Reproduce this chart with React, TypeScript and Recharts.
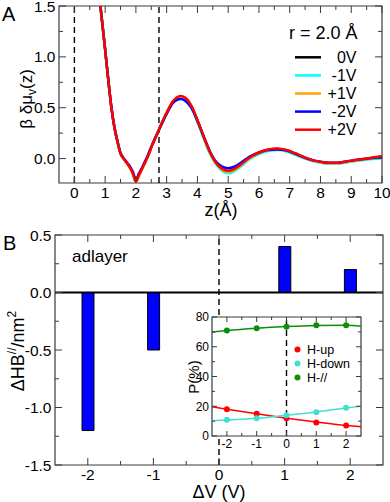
import React from "react";
import {
  Bar,
  BarChart,
  ComposedChart,
  Line,
  LineChart,
  ReferenceArea,
  ReferenceLine,
  XAxis,
  YAxis,
} from "recharts";

const FONT = "'Liberation Sans', Arial, Helvetica, sans-serif";
const AXIS = "#3a3a3a";

// ---- panel A: beta delta mu_v(z) for r = 2.0 A ----
const zValues = [
  0.75, 0.85, 0.9, 1.0, 1.1, 1.2, 1.3, 1.4, 1.5, 1.6, 1.7, 1.8, 1.9, 2.0, 2.1,
  2.2, 2.3, 2.4, 2.5, 2.6, 2.7, 2.8, 3.0, 3.2, 3.45, 3.6, 3.8, 4.0, 4.2, 4.4,
  4.6, 4.8, 5.0, 5.2, 5.4, 5.7, 6.0, 6.3, 6.6, 6.9, 7.2, 7.5, 7.8, 8.1, 8.4,
  8.7, 9.0, 9.4, 9.7, 10.0,
];
const mu0V = [
  1.81, 1.49, 1.35, 1.07, 0.78, 0.51, 0.31, 0.17, 0.05, 0.0, -0.04, -0.085,
  -0.145, -0.225, -0.16, -0.1, -0.035, 0.03, 0.11, 0.18, 0.25, 0.32, 0.45,
  0.555, 0.605, 0.59, 0.515, 0.375, 0.215, 0.065, -0.045, -0.105, -0.125,
  -0.105, -0.065, 0.005, 0.055, 0.085, 0.095, 0.08, 0.045, 0.005, -0.025,
  -0.04, -0.045, -0.04, -0.025, -0.01, 0.005, 0.02,
];
const muM1V = [
  1.81, 1.49, 1.35, 1.07, 0.78, 0.51, 0.31, 0.17, 0.05, 0.0, -0.04, -0.085,
  -0.145, -0.225, -0.16, -0.1, -0.035, 0.035, 0.115, 0.185, 0.255, 0.325,
  0.45, 0.555, 0.6, 0.585, 0.505, 0.36, 0.2, 0.05, -0.05, -0.12, -0.145,
  -0.125, -0.08, -0.005, 0.045, 0.075, 0.085, 0.07, 0.035, 0.0, -0.03, -0.045,
  -0.05, -0.045, -0.03, -0.015, -0.005, 0.0,
];
const muP1V = [
  1.81, 1.49, 1.35, 1.07, 0.78, 0.51, 0.31, 0.17, 0.05, 0.0, -0.045, -0.09,
  -0.15, -0.235, -0.17, -0.105, -0.04, 0.03, 0.11, 0.18, 0.25, 0.32, 0.45,
  0.56, 0.61, 0.595, 0.515, 0.375, 0.215, 0.065, -0.045, -0.11, -0.13, -0.11,
  -0.065, 0.005, 0.055, 0.085, 0.095, 0.08, 0.045, 0.005, -0.025, -0.04,
  -0.045, -0.04, -0.025, -0.01, 0.005, 0.02,
];
const muM2V = [
  1.81, 1.49, 1.35, 1.07, 0.78, 0.51, 0.31, 0.17, 0.055, 0.005, -0.035, -0.075,
  -0.13, -0.205, -0.145, -0.09, -0.025, 0.04, 0.115, 0.185, 0.25, 0.315, 0.44,
  0.545, 0.585, 0.57, 0.5, 0.37, 0.22, 0.075, -0.03, -0.08, -0.095, -0.08,
  -0.045, 0.02, 0.06, 0.085, 0.09, 0.08, 0.045, 0.008, -0.02, -0.035, -0.04,
  -0.035, -0.02, -0.005, 0.005, 0.01,
];
const muP2V = [
  1.81, 1.49, 1.35, 1.07, 0.78, 0.51, 0.31, 0.17, 0.05, 0.0, -0.04, -0.085,
  -0.145, -0.225, -0.16, -0.1, -0.035, 0.03, 0.11, 0.18, 0.25, 0.32, 0.45,
  0.56, 0.615, 0.6, 0.52, 0.38, 0.22, 0.07, -0.04, -0.1, -0.12, -0.1, -0.06,
  0.01, 0.06, 0.09, 0.1, 0.085, 0.05, 0.01, -0.02, -0.035, -0.04, -0.035,
  -0.02, -0.005, 0.01, 0.025,
];
const seriesA = [
  { key: "v0", name: "0V", color: "#000000", values: mu0V },
  { key: "vm1", name: "-1V", color: "#00ffff", values: muM1V },
  { key: "vp1", name: "+1V", color: "#ffa500", values: muP1V },
  { key: "vm2", name: "-2V", color: "#0000ff", values: muM2V },
  { key: "vp2", name: "+2V", color: "#ff0000", values: muP2V },
];
const zTicks = [
  0, 0.5, 1, 1.5, 2, 2.5, 3, 3.5, 4, 4.5, 5, 5.5, 6, 6.5, 7, 7.5, 8, 8.5, 9,
  9.5, 10,
];
const muTicks = [0, 0.25, 0.5, 0.75, 1, 1.25, 1.5];
const wallLines = [0, 2.75];

// ---- panel B: change of parallel H-bonds ----
const dvValues = [-2, -1, 0, 1, 2];
const dHB = [-1.2, -0.5, 0, 0.4, 0.2];
const dvTicks = [-2, -1.5, -1, -0.5, 0, 0.5, 1, 1.5, 2];
const hbTicks = [-1.5, -1.25, -1, -0.75, -0.5, -0.25, 0, 0.25, 0.5];

// ---- inset: orientation populations ----
const pHup = [18, 15, 12, 9, 7];
const pHdown = [11, 12, 14, 16, 19];
const pHpar = [71, 72.5, 73.5, 74.5, 74.5];
const fitDv = [-2.5, -2, -1, 0, 1, 2, 2.5];
const fitHup = [19.6, 18, 14.9, 12, 9.4, 7.1, 6.2];
const fitHdown = [10.2, 10.8, 12, 14, 16.2, 18.8, 20];
const fitHpar = [69.8, 70.9, 72.5, 73.6, 74.3, 74.5, 73.8];
const pTicks = [0, 10, 20, 30, 40, 50, 60, 70, 80];
const insetSeries = [
  { name: "H-up", color: "#ff0000", pts: pHup, fit: fitHup },
  { name: "H-down", color: "#40e0d0", pts: pHdown, fit: fitHdown },
  { name: "H-//", color: "#098f09", pts: pHpar, fit: fitHpar },
];

const dataA = zValues.map((z, i) => {
  const row: Record<string, number> = { z };
  seriesA.forEach((s) => (row[s.key] = s.values[i]));
  return row;
});
const dataB = dvValues.map((dv, i) => ({ dv, hb: dHB[i] }));

type Box = { left: number; right: number; top: number; bottom: number };
type TickOpts = {
  box: Box;
  step: number;
  big: number;
  small: number;
  textPos: number;
  fontSize: number;
  fmt: (v: number) => string;
};

const isMajor = (v: number, step: number) =>
  Math.abs(v / step - Math.round(v / step)) < 1e-6;

function makeXTick(o: TickOpts) {
  return function XTick(props: any) {
    const x = props.x;
    const v = props.payload.value;
    const major = isMajor(v, o.step);
    const len = major ? o.big : o.small;
    return (
      <g>
        <line x1={x} x2={x} y1={o.box.bottom} y2={o.box.bottom - len} stroke={AXIS} />
        <line x1={x} x2={x} y1={o.box.top} y2={o.box.top + len} stroke={AXIS} />
        {major && (
          <text x={x} y={o.textPos} textAnchor="middle" fontSize={o.fontSize} fontFamily={FONT} fill="#000">
            {o.fmt(v)}
          </text>
        )}
      </g>
    );
  };
}

function makeYTick(o: TickOpts) {
  return function YTick(props: any) {
    const y = props.y;
    const v = props.payload.value;
    const major = isMajor(v, o.step);
    const len = major ? o.big : o.small;
    return (
      <g>
        <line x1={o.box.left} x2={o.box.left + len} y1={y} y2={y} stroke={AXIS} />
        <line x1={o.box.right} x2={o.box.right - len} y1={y} y2={y} stroke={AXIS} />
        {major && (
          <text x={o.textPos} y={y + o.fontSize * 0.36} textAnchor="end" fontSize={o.fontSize} fontFamily={FONT} fill="#000">
            {o.fmt(v)}
          </text>
        )}
      </g>
    );
  };
}

// plot boxes in each chart's own pixel frame
const boxA: Box = { left: 59, right: 382, top: 6, bottom: 183 };
const boxB: Box = { left: 55, right: 383, top: 15, bottom: 245 };
const boxI: Box = { left: 42, right: 191, top: 7, bottom: 126 };

function PanelA() {
  return (
    <LineChart width={390} height={230} data={dataA} margin={{ top: 6, right: 8, bottom: 17, left: 9 }}>
      <XAxis
        dataKey="z"
        type="number"
        domain={[-0.5, 10]}
        ticks={zTicks}
        interval={0}
        height={30}
        axisLine={false}
        tickLine={false}
        tick={makeXTick({ box: boxA, step: 1, big: 7, small: 4, textPos: 198, fontSize: 15.5, fmt: (v) => String(v) })}
      />
      <YAxis
        type="number"
        domain={[-0.24, 1.5]}
        allowDataOverflow
        ticks={muTicks}
        interval={0}
        width={50}
        axisLine={false}
        tickLine={false}
        tick={makeYTick({ box: boxA, step: 0.5, big: 7, small: 4, textPos: 55.5, fontSize: 15.5, fmt: (v) => v.toFixed(1) })}
      />
      <ReferenceArea x1={-0.5} x2={10} y1={-0.24} y2={1.5} fill="none" stroke={AXIS} strokeWidth={1.2} />
      {wallLines.map((x) => (
        <ReferenceLine key={x} x={x} stroke="#000" strokeWidth={1.4} strokeDasharray="6 4" />
      ))}
      {seriesA.map((s) => (
        <Line
          key={s.key}
          dataKey={s.key}
          type="monotone"
          stroke={s.color}
          strokeWidth={2.5}
          dot={false}
          isAnimationActive={false}
        />
      ))}
    </LineChart>
  );
}

function PanelB() {
  return (
    <BarChart width={390} height={282} data={dataB} margin={{ top: 15, right: 7, bottom: 7, left: 10 }}>
      <XAxis
        dataKey="dv"
        type="number"
        domain={[-2.5, 2.5]}
        ticks={dvTicks}
        interval={0}
        height={30}
        axisLine={false}
        tickLine={false}
        tick={makeXTick({ box: boxB, step: 1, big: 7, small: 4, textPos: 260, fontSize: 15.5, fmt: (v) => String(v) })}
      />
      <YAxis
        type="number"
        domain={[-1.5, 0.5]}
        ticks={hbTicks}
        interval={0}
        width={45}
        axisLine={false}
        tickLine={false}
        tick={makeYTick({ box: boxB, step: 0.5, big: 7, small: 4, textPos: 51.5, fontSize: 15.5, fmt: (v) => v.toFixed(1) })}
      />
      <ReferenceArea x1={-2.5} x2={2.5} y1={-1.5} y2={0.5} fill="none" stroke={AXIS} strokeWidth={1.2} />
      <ReferenceLine x={0} stroke="#000" strokeWidth={1.4} strokeDasharray="6 4" />
      <Bar dataKey="hb" barSize={12} fill="#0000ff" stroke="#000" strokeWidth={1} isAnimationActive={false} />
      <ReferenceLine y={0} stroke="#000" strokeWidth={1.8} />
    </BarChart>
  );
}

function Inset() {
  return (
    <ComposedChart width={193} height={145} margin={{ top: 7, right: 2, bottom: 3, left: 12 }}>
      <XAxis
        dataKey="x"
        type="number"
        domain={[-2.5, 2.5]}
        ticks={dvTicks}
        interval={0}
        height={16}
        axisLine={false}
        tickLine={false}
        tick={makeXTick({ box: boxI, step: 1, big: 5, small: 3, textPos: 138, fontSize: 12, fmt: (v) => String(v) })}
      />
      <YAxis
        type="number"
        domain={[0, 80]}
        ticks={pTicks}
        interval={0}
        width={30}
        axisLine={false}
        tickLine={false}
        tick={makeYTick({ box: boxI, step: 20, big: 5, small: 3, textPos: 39, fontSize: 12, fmt: (v) => String(v) })}
      />
      <ReferenceArea x1={-2.5} x2={2.5} y1={0} y2={80} fill="none" stroke={AXIS} strokeWidth={1.2} />
      <ReferenceLine x={0} stroke="#000" strokeWidth={1.4} strokeDasharray="6 4" />
      {insetSeries.map((s) => (
        <Line
          key={s.name + "fit"}
          data={fitDv.map((x, i) => ({ x, y: s.fit[i] }))}
          dataKey="y"
          type="monotone"
          stroke={s.color}
          strokeWidth={1.5}
          dot={false}
          isAnimationActive={false}
        />
      ))}
      {insetSeries.map((s) => (
        <Line
          key={s.name + "pts"}
          data={dvValues.map((x, i) => ({ x, y: s.pts[i] }))}
          dataKey="y"
          stroke="none"
          dot={{ r: 3, fill: s.color, stroke: s.color, strokeWidth: 0 }}
          isAnimationActive={false}
        />
      ))}
    </ComposedChart>
  );
}

function Overlay() {
  return (
    <svg width={390} height={502} style={{ position: "absolute", left: 0, top: 0, pointerEvents: "none" }} fontFamily={FONT}>
      <text x={2} y={21} fontSize={20}>A</text>
      <text x={3} y={250} fontSize={20}>B</text>
      <text transform="translate(32,99) rotate(-90)" textAnchor="middle" fontSize={17}>
        β δμ<tspan fontSize={12} dy={4}>v</tspan>
        <tspan dy={-4}>(z)</tspan>
      </text>
      <text x={221} y={216} textAnchor="middle" fontSize={18}>z(Å)</text>
      <text x={357.5} y={39} textAnchor="end" fontSize={18}>r = 2.0 Å</text>
      {seriesA.map((s, i) => {
        const y = 57.3 + i * 18.1;
        return (
          <g key={s.key}>
            <line x1={295} x2={321} y1={y} y2={y} stroke={s.color} strokeWidth={2.5} />
            <text x={356.5} y={y + 5.6} textAnchor="end" fontSize={16}>{s.name}</text>
          </g>
        );
      })}
      <text x={72} y={262} fontSize={17}>adlayer</text>
      <text transform="translate(24,351) rotate(-90)" textAnchor="middle" fontSize={18}>
        ΔHB<tspan fontSize={12} dy={-8}>//</tspan>
        <tspan dy={8}>/nm</tspan>
        <tspan fontSize={12} dy={-8}>2</tspan>
      </text>
      <text x={219} y={498} textAnchor="middle" fontSize={18}>ΔV (V)</text>
      <text transform="translate(199,377) rotate(-90)" textAnchor="middle" fontSize={15}>P(%)</text>
      {insetSeries.map((s, i) => {
        const y = 349.5 + i * 14;
        return (
          <g key={s.name}>
            <circle cx={297.5} cy={y} r={3} fill={s.color} />
            <text x={307} y={y + 4.3} fontSize={12.5}>{s.name}</text>
          </g>
        );
      })}
    </svg>
  );
}

export default function App() {
  return (
    <div style={{ position: "absolute", left: 0, top: 0, width: 390, height: 502, background: "#fff", fontFamily: FONT }}>
      <div style={{ position: "absolute", left: 0, top: 0 }}>
        <PanelA />
      </div>
      <div style={{ position: "absolute", left: 0, top: 220 }}>
        <PanelB />
      </div>
      <div style={{ position: "absolute", left: 212, top: 317, width: 149, height: 119, background: "#fff" }} />
      <div style={{ position: "absolute", left: 170, top: 310 }}>
        <Inset />
      </div>
      <Overlay />
    </div>
  );
}
